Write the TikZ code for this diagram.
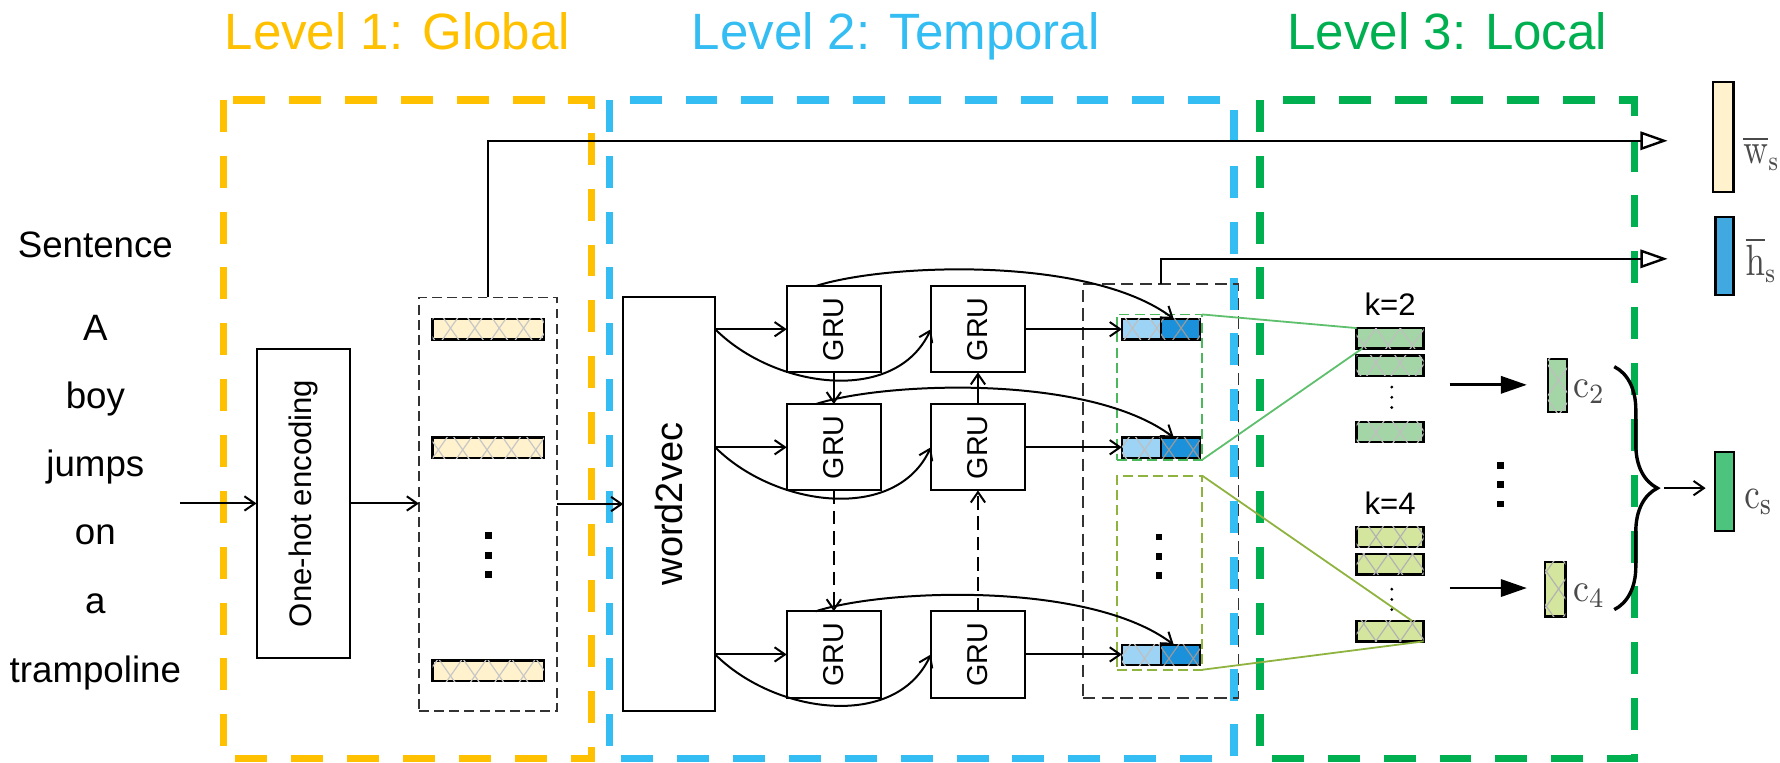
\documentclass[tikz,border=0pt]{standalone}
\usepackage[no-math]{fontspec}
\setmainfont{Liberation Sans}
\usetikzlibrary{arrows.meta,patterns.meta,decorations.pathreplacing,calc}
\definecolor{lvorange}{HTML}{FFC000}
\definecolor{lvblue}{HTML}{33BDF2}
\definecolor{lvgreen}{HTML}{00B050}
\definecolor{colBeige}{HTML}{FFF2CC}
\definecolor{ccLight}{HTML}{9DD4F5}
\definecolor{ccDark}{HTML}{1A91DA}
\definecolor{kTwo}{HTML}{A3D5A6}
\definecolor{kFour}{HTML}{D4E69E}
\definecolor{csGreen}{HTML}{4CC47E}
\definecolor{hsBlue}{HTML}{41A8E0}
\definecolor{grpGreen}{HTML}{4CB85C}
\definecolor{grpOlive}{HTML}{8FB33F}
\definecolor{labGray}{HTML}{4A4A4A}
\begin{document}
\begin{tikzpicture}[x=0.1mm,y=-0.1mm,
  lvframe/.style={line width=1.85pt, dash pattern=on 8pt off 6pt},
  lvl/.style={font=\fontsize{12.8}{15}\selectfont, anchor=base, inner sep=0pt},
  wrd/.style={font=\fontsize{9.2}{11}\selectfont, anchor=base, inner sep=0pt},
  stbox/.style={draw, line width=0.5pt, inner sep=0pt, outer sep=0pt},
  dbox/.style={draw=black!80, line width=0.45pt, dash pattern=on 2.5pt off 1.3pt, inner sep=0pt, outer sep=0pt},
  stbar/.style={draw, line width=0.6pt, inner sep=0pt, outer sep=0pt, minimum height=1.8mm},
  hatch/.style={postaction={pattern={Lines[angle=55,distance=5pt,line width=0.3pt]},pattern color=#1},
                postaction={pattern={Lines[angle=-55,distance=5pt,line width=0.3pt]},pattern color=#1}},
  arr/.style={line width=0.5pt, -{Straight Barb[length=2.6pt,width=3.6pt]}},
  farr/.style={line width=0.7pt, -{Triangle[length=6.5pt,width=4.3pt]}},
  oarr/.style={line width=0.6pt, -{Triangle[open,length=6.8pt,width=4.6pt]}},
  grut/.style={rotate=90, font=\fontsize{7.2}{9}\selectfont, inner sep=0pt},
  mlab/.style={anchor=base west, inner sep=0pt, text=labGray},
]
\useasboundingbox (0,0) rectangle (1568,672);

% level frames
\draw[lvframe, lvorange] (197,88) rectangle (521,668);
\draw[lvframe, lvblue] (537,88) rectangle (1087,668);
\draw[lvframe, lvgreen] (1110,88) rectangle (1440,668);

% headers
\node[lvl, text=lvorange] (h1) at (350,44) {Level 1: Global};
\node[lvl, text=lvblue] (h2) at (789,44) {Level 2: Temporal};
\node[lvl, text=lvgreen] (h3) at (1275,44) {Level 3: Local};

% sentence
\node[wrd] (s0) at (84,227) {Sentence};
\node[wrd] (s1) at (84,300) {A};
\node[wrd] (s2) at (84,360) {boy};
\node[wrd] (s3) at (84,420) {jumps};
\node[wrd] (s4) at (84,480) {on};
\node[wrd] (s5) at (84,540) {a};
\node[wrd] (s6) at (84,601) {trampoline};

% level 1
\node[stbox, minimum width=8.2mm, minimum height=27.3mm] (oh) at (267,443.5) {};
\node[rotate=90, font=\fontsize{7.8}{9}\selectfont, inner sep=0pt] (oht) at (oh) {One-hot encoding};
\node[dbox, minimum width=12.2mm, minimum height=36.4mm] (bg) at (430,444) {};
\node[stbar, fill=colBeige, hatch=black!22, minimum width=9.8mm] (bb1) at (430,290) {};
\node[stbar, fill=colBeige, hatch=black!22, minimum width=9.8mm] (bb2) at (430,394.5) {};
\node[stbar, fill=colBeige, hatch=black!22, minimum width=9.8mm] (bb3) at (430,591) {};
\foreach \yy in {472,489,506} \fill (427,\yy-3) rectangle (433,\yy+3);

\coordinate (in0) at (159,443.5);
\draw[arr] (in0) -- (oh.west);
\draw[arr] (oh.east) -- (bg.west |- oh.east);

% level 2
\node[stbox, minimum width=8.1mm, minimum height=36.4mm] (w2v) at (589.5,444) {};
\node[rotate=90, font=\fontsize{9.5}{11}\selectfont, inner sep=0pt] (w2vt) at (w2v) {word2vec};
\draw[arr] (bg.east) -- (bg.east -| w2v.west);

\foreach \nm/\xx/\yy in {g11/734.5/290, g12/861.5/290, g21/734.5/394, g22/861.5/394, g31/734.5/576.5, g32/861.5/576.5}{
  \node[stbox, minimum width=8.3mm, minimum height=7.6mm] (\nm) at (\xx,\yy) {};
  \node[grut] (\nm t) at (\nm) {GRU};
}

\foreach \r in {1,2,3}{
  \draw[arr] (w2v.east |- g\r1.west) -- (g\r1.west);
  \draw[arr] (w2v.east |- g\r1.west) to[out=-45,in=-115] (g\r2.west);
}
\draw[arr] (g11.south) -- (g21.north);
\draw[arr, dash pattern=on 3.4pt off 1.7pt] (g21.south) -- (g31.north);
\draw[arr, dash pattern=on 3.4pt off 1.7pt] (g32.north) -- (g22.south);
\draw[arr] (g22.north) -- (g12.south);

\node[dbox, minimum width=13.7mm, minimum height=36.5mm, dash pattern=on 3.1pt off 1.6pt] (bk) at (1022.5,432.5) {};
\node[dbox, draw=grpGreen, minimum width=7.5mm, minimum height=12.8mm] (grp2) at (1021.5,341) {};
\node[dbox, draw=grpOlive, minimum width=7.5mm, minimum height=17.1mm] (grp4) at (1021.5,504.5) {};
\foreach \yy in {473,490,507} \fill (1018,\yy-3) rectangle (1024,\yy+3);

\foreach \r/\yy in {1/290, 2/394.5, 3/577}{
  \node[stbar, fill=ccLight, hatch=black!25, minimum width=3.45mm] (cl\r) at (1005.5,\yy) {};
  \node[stbar, fill=ccDark, hatch=black!40, minimum width=3.45mm] (cd\r) at (1040,\yy) {};
}
\draw[arr] (g12.east) -- (cl1.west);
\draw[arr] (g22.east) -- (g22.east -| cl2.west);
\draw[arr] (g32.east) -- (g32.east -| cl3.west);
\draw[arr] ($(g11.north)+(-16,0)$) .. controls +(62,-20) and +(-74,-56) .. ($(cd1.north)+(-6,0)$);
\draw[arr] ($(g21.north)+(-16,0)$) .. controls +(62,-20) and +(-74,-56) .. ($(cd2.north)+(-6,0)$);
\draw[arr] ($(g31.north)+(-16,0)$) .. controls +(62,-20) and +(-74,-56) .. ($(cd3.north)+(-6,0)$);

% outputs w_s and h_s
\coordinate (wsend) at (1469,124);
\coordinate (hsend) at (1469,228);
\draw[oarr] (bg.north) |- (wsend);
\draw[oarr] (bk.north) |- (hsend);
\node[stbar, fill=colBeige, minimum width=1.8mm, minimum height=9.7mm] (ws) at (1518,120.5) {};
\node[stbar, fill=hsBlue, minimum width=1.6mm, minimum height=6.9mm] (hs) at (1519,225.5) {};
\node[mlab, font=\fontsize{10.5}{12}\selectfont] (wsl) at (1535,144) {\scalebox{0.78}[1]{$\overline{\mathrm{w}}_{\mathrm{s}}$}};
\node[mlab, font=\fontsize{10.5}{12}\selectfont] (hsl) at (1537,243) {\scalebox{0.8}[1]{$\overline{\mathrm{h}}_{\mathrm{s}}$}};

% level 3
\node[inner sep=0pt, anchor=base, font=\fontsize{7.8}{9}\selectfont] (k2l) at (1224.5,277.5) {k=2};
\node[inner sep=0pt, anchor=base, font=\fontsize{7.8}{9}\selectfont] (k4l) at (1224.5,453) {k=4};
\foreach \nm/\yy in {k2a/298, k2b/322, k2c/380.5}
  \node[stbar, fill=kTwo, hatch=black!25, minimum width=5.9mm] (\nm) at (1224.5,\yy) {};
\foreach \nm/\yy in {k4a/473, k4b/497, k4c/556}
  \node[stbar, fill=kFour, hatch=black!30, minimum width=5.9mm] (\nm) at (1224.5,\yy) {};
\foreach \yy in {341,350,359} \fill (1226,\yy) circle (1.4);
\foreach \yy in {519,528,537} \fill (1226,\yy) circle (1.4);

\draw[grpGreen!90, line width=0.45pt] (grp2.north east) -- (k2a.north west);
\draw[grpGreen!90, line width=0.45pt] (grp2.south east) -- ($(k2a.south west)+(5,0)$);
\draw[grpOlive, line width=0.45pt] (grp4.north east) -- ($(k4c.north east)+(-10,0)$);
\draw[grpOlive, line width=0.45pt] (grp4.south east) -- (k4c.south east);

\coordinate (ka1) at (1277,339);
\coordinate (ka2) at (1345,339);
\coordinate (kb1) at (1277,518);
\coordinate (kb2) at (1345,518);
\draw[farr] (ka1) -- (ka2);
\draw[farr] (kb1) -- (kb2);
\foreach \yy in {410,427,444} \fill (1319,\yy-3) rectangle (1325,\yy+3);

\node[stbar, fill=kTwo, hatch=black!25, minimum width=1.7mm, minimum height=4.7mm] (c2) at (1372,339.5) {};
\node[stbar, fill=kFour, hatch=black!30, minimum width=1.8mm, minimum height=4.8mm] (c4) at (1370,519) {};
\node[mlab, font=\fontsize{10}{12}\selectfont] (c2l) at (1385,350) {\scalebox{0.9}[1]{$\mathrm{c}_{2}$}};
\node[mlab, font=\fontsize{10}{12}\selectfont] (c4l) at (1385,530) {\scalebox{0.9}[1]{$\mathrm{c}_{4}$}};

\draw[line width=0.85pt, decorate, decoration={brace, amplitude=3.8mm}] (1422,323) -- (1422,537);
\coordinate (bt) at (1466,430);
\node[stbar, fill=csGreen, minimum width=1.7mm, minimum height=7mm] (cs) at (1519,433) {};
\draw[arr] (bt) -- ($(cs.west |- bt)+(-8,0)$);
\node[mlab, font=\fontsize{11}{13}\selectfont] (csl) at (1536,447.5) {\scalebox{0.8}[1]{$\mathrm{c}_{\mathrm{s}}$}};
\end{tikzpicture}
\end{document}
